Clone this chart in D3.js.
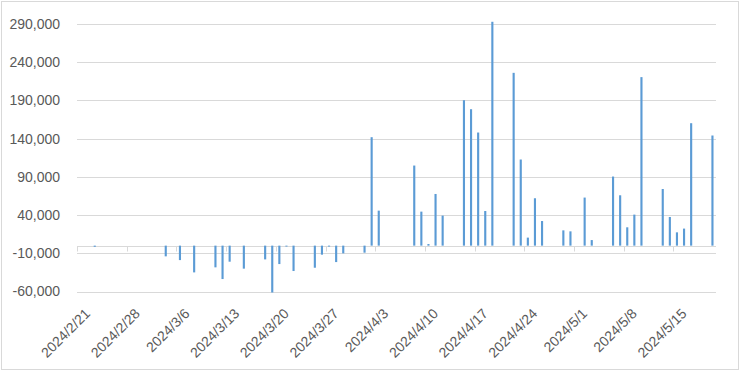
<!DOCTYPE html>
<html>
<head>
<meta charset="utf-8">
<script src="https://cdn.jsdelivr.net/npm/d3@7"></script>
<style>
	html, body { margin: 0; padding: 0; background: #fff; }
	svg { display: block; font-family: "Liberation Sans", Arial, sans-serif; }
</style>
</head>
<body>
<div id="chart"></div>
<script>
// daily values, only days that have a bar
var dates = [
	'2024-02-23', '2024-03-04', '2024-03-06', '2024-03-08', '2024-03-11', '2024-03-12', '2024-03-13', '2024-03-15',
	'2024-03-18', '2024-03-19', '2024-03-20', '2024-03-21', '2024-03-22', '2024-03-25', '2024-03-26', '2024-03-27',
	'2024-03-28', '2024-03-29', '2024-04-01', '2024-04-02', '2024-04-03', '2024-04-08', '2024-04-09', '2024-04-10',
	'2024-04-11', '2024-04-12', '2024-04-15', '2024-04-16', '2024-04-17', '2024-04-18', '2024-04-19', '2024-04-22',
	'2024-04-23', '2024-04-24', '2024-04-25', '2024-04-26', '2024-04-29', '2024-04-30', '2024-05-02', '2024-05-03',
	'2024-05-06', '2024-05-07', '2024-05-08', '2024-05-09', '2024-05-10', '2024-05-13', '2024-05-14', '2024-05-15',
	'2024-05-16', '2024-05-17', '2024-05-20'
];
var values = [
	-1500, -14000, -18900, -35000, -28400, -43700, -21000, -30100,
	-18000, -61300, -24100, -1200, -33200, -28900, -11800, -1200,
	-21500, -10100, -9200, 141900, 45800, 104800, 44500, 2100,
	67600, 39300, 190300, 178500, 148000, 45300, 292900, 226100,
	112700, 10500, 62000, 32200, 20000, 18700, 62900, 7300,
	90400, 65900, 24000, 40600, 220500, 74100, 37500, 17400,
	22300, 160200, 144100
];
var xTicks = ['2024-02-21', '2024-02-28', '2024-03-06', '2024-03-13', '2024-03-20', '2024-03-27', '2024-04-03',
	'2024-04-10', '2024-04-17', '2024-04-24', '2024-05-01', '2024-05-08', '2024-05-15'];
var yTicks = [-60000, -10000, 40000, 90000, 140000, 190000, 240000, 290000];

var W = 740, H = 371
	, pL = 77, pR = 716, pT = 24, pB = 291.5
	, parse = d3.timeParse('%Y-%m-%d')
	, fmtDay = d3.timeFormat('%Y-%m-%d')
	, fmtLabel = function(d){ var t = parse(d); return t.getFullYear() + '/' + (t.getMonth() + 1) + '/' + t.getDate(); }
	, fmtNum = function(v){ return d3.format(',')(v).replace('\u2212', '-'); }
	;

var days = d3.timeDay.range(parse('2024-02-21'), d3.timeDay.offset(parse('2024-05-20'), 1)).map(fmtDay);

var x = d3.scaleBand().domain(days).range([pL, pR]).paddingInner(0.7).paddingOuter(0.35);
var y = d3.scaleLinear().domain([-60000, 290000]).range([pB, pT]);
var step = x.step();
var slot = function(d){ return pL + days.indexOf(d) * step; };

var svg = d3.select('#chart').append('svg').attr('width', W).attr('height', H);

svg.append('rect').attr('x', 1.5).attr('y', 1.5).attr('width', W - 3).attr('height', H - 3)
	.attr('fill', '#fff').attr('stroke', '#d9d9d9').attr('stroke-width', 1);

// gridlines + y labels
var yAxis = d3.axisLeft(y).tickValues(yTicks).tickSize(-(pR - pL)).tickFormat(fmtNum).tickPadding(17);
var gy = svg.append('g').attr('transform', 'translate(' + pL + ',0)').call(yAxis);
gy.select('.domain').remove();
gy.selectAll('.tick line').attr('stroke', '#d9d9d9').attr('shape-rendering', 'crispEdges');
gy.selectAll('.tick text').attr('fill', '#595959').attr('font-size', '14px').attr('font-family', '"Liberation Sans", Arial, sans-serif');

// zero axis line with weekly ticks
var y0 = Math.round(y(0)) + 0.5;
svg.append('line').attr('x1', pL).attr('x2', pR).attr('y1', y0).attr('y2', y0).attr('stroke', '#d9d9d9');
svg.selectAll('.wtick').data(xTicks).enter().append('line').attr('class', 'wtick')
	.attr('x1', function(d){ return Math.round(slot(d)) + 0.5; })
	.attr('x2', function(d){ return Math.round(slot(d)) + 0.5; })
	.attr('y1', y0).attr('y2', y0 + 5).attr('stroke', '#d9d9d9');

// bars
svg.selectAll('.bar').data(values).enter().append('rect').attr('class', 'bar')
	.attr('x', function(d, i){ return x(dates[i]); })
	.attr('width', x.bandwidth())
	.attr('y', function(d){ return y(Math.max(0, d)); })
	.attr('height', function(d){ return Math.abs(y(d) - y(0)); })
	.attr('fill', '#5b9bd5');

// rotated date labels
svg.selectAll('.xlab').data(xTicks).enter().append('text').attr('class', 'xlab')
	.attr('transform', function(d){ return 'translate(' + (slot(d) + step / 2 + 10.5) + ',' + 314.5 + ') rotate(-45)'; })
	.attr('text-anchor', 'end')
	.attr('fill', '#595959').attr('font-size', '14px')
	.text(fmtLabel);
</script>
</body>
</html>
